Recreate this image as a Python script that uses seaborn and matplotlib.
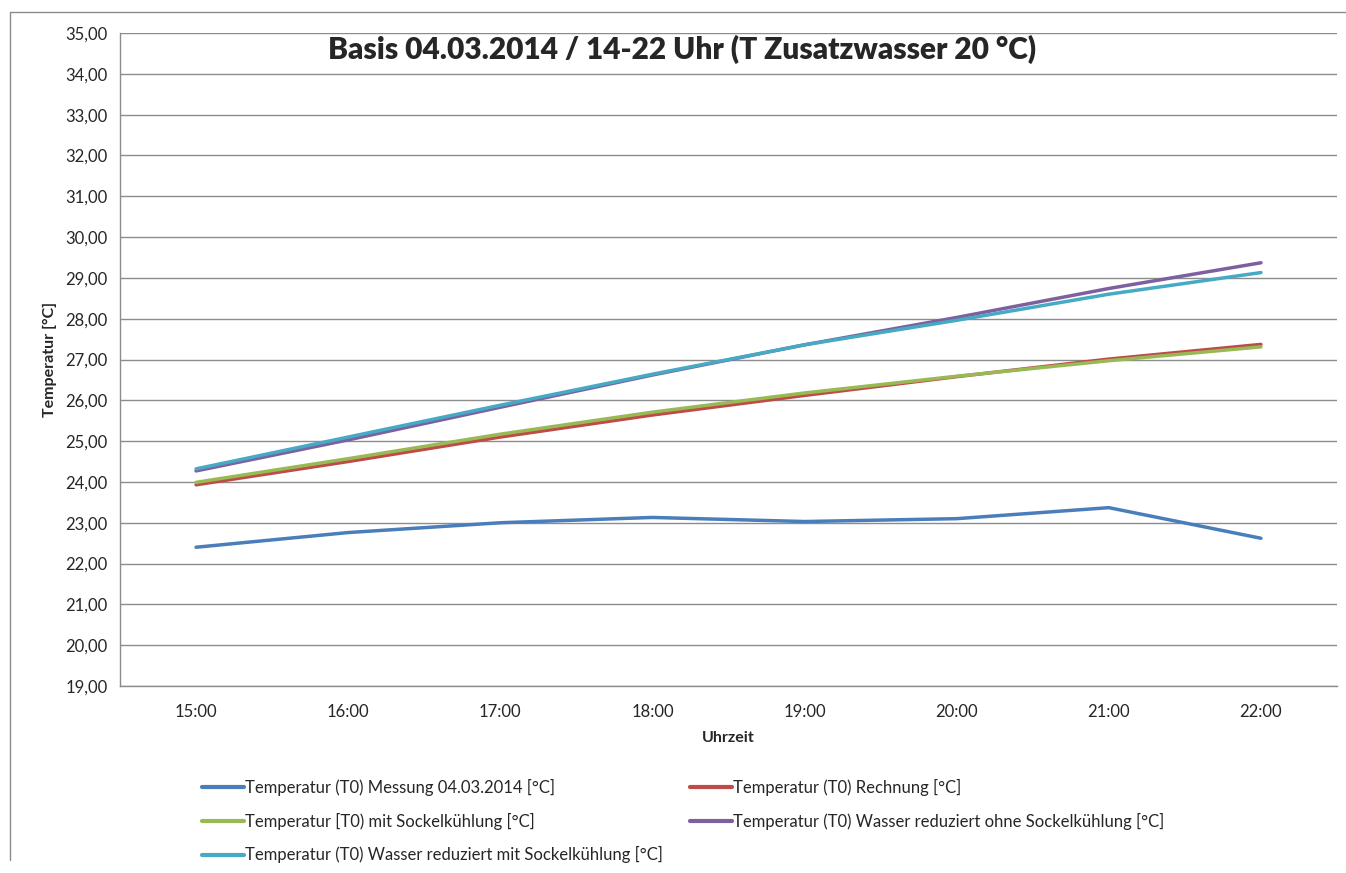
import matplotlib
matplotlib.use("Agg")
import matplotlib.pyplot as plt
import seaborn as sns
import pandas as pd
from matplotlib.lines import Line2D
from matplotlib.ticker import FuncFormatter, MultipleLocator, FixedLocator

hours = ["15:00", "16:00", "17:00", "18:00", "19:00", "20:00", "21:00", "22:00"]

messung = [22.40, 22.76, 23.00, 23.13, 23.03, 23.10, 23.37, 22.62]
rechnung = [23.93, 24.50, 25.10, 25.64, 26.12, 26.58, 27.01, 27.37]
mit_sockel = [23.99, 24.57, 25.17, 25.71, 26.18, 26.59, 26.97, 27.31]
red_ohne = [24.27, 25.03, 25.83, 26.62, 27.36, 28.03, 28.74, 29.37]
red_mit = [24.32, 25.10, 25.88, 26.64, 27.36, 27.96, 28.60, 29.13]

names = [
    "Temperatur (T0) Messung 04.03.2014 [°C]",
    "Temperatur (T0) Rechnung [°C]",
    "Temperatur [T0) mit Sockelkühlung [°C]",
    "Temperatur (T0) Wasser reduziert ohne Sockelkühlung [°C]",
    "Temperatur (T0) Wasser reduziert mit Sockelkühlung [°C]",
]
colors = ["#4A7EBB", "#BE4B48", "#98B954", "#7D60A0", "#46AAC5"]

series = [messung, rechnung, mit_sockel, red_ohne, red_mit]
rows = []
for name, vals in zip(names, series):
    for h, v in zip(hours, vals):
        rows.append({"Uhrzeit": h, "Temp": v, "Reihe": name})
df = pd.DataFrame(rows)

sns.set_style("white")
plt.rcParams["font.family"] = ["Lato", "DejaVu Sans"]

fig = plt.figure(figsize=(13.46, 8.73), dpi=100)
ax = fig.add_axes([120 / 1346, 1 - 686 / 873, (1337 - 120) / 1346, (686 - 33) / 873])

sns.lineplot(data=df, x="Uhrzeit", y="Temp", hue="Reihe", hue_order=names,
             palette=colors, linewidth=2.5, ax=ax, legend=False, sort=False)
for ln in ax.get_lines():
    ln.set_solid_capstyle("round")

ax.set_xlim(-0.5, 7.5)
ax.set_ylim(19, 35)
ax.yaxis.set_major_locator(MultipleLocator(1))
ax.yaxis.set_major_formatter(FuncFormatter(lambda v, p: f"{v:.2f}".replace(".", ",")))
ax.grid(axis="y", color="#8c8c8c", linewidth=1)
ax.set_axisbelow(True)

ax.set_xticks(range(len(hours)))
ax.set_xticklabels(hours)
ax.xaxis.set_minor_locator(FixedLocator([i - 0.5 for i in range(len(hours) + 1)]))
ax.tick_params(axis="x", which="major", length=0, pad=13, labelsize=12)
ax.tick_params(axis="x", which="minor", length=5, color="#8c8c8c", direction="out")
ax.tick_params(axis="y", length=5, color="#8c8c8c", direction="out", labelsize=12, pad=4)

for s in ["top", "right"]:
    ax.spines[s].set_visible(False)
for s in ["left", "bottom"]:
    ax.spines[s].set_color("#8c8c8c")
    ax.spines[s].set_linewidth(1)

ax.set_xlabel("Uhrzeit", fontweight="bold", fontsize=11.5, labelpad=8)
ax.set_ylabel("Temperatur [°C]", fontweight="bold", fontsize=11.5, labelpad=6)

fig.text(682 / 1346, 1 - 49 / 873, "Basis 04.03.2014 / 14-22 Uhr (T Zusatzwasser 20 °C)",
         ha="center", va="center", fontsize=21.5, fontweight="heavy")

handles = [Line2D([], [], color=c, linewidth=3) for c in colors]
order = [0, 2, 4, 1, 3]
fig.legend([handles[i] for i in order], [names[i] for i in order],
           loc="upper left", bbox_to_anchor=(202 / 1346, 1 - 779 / 873),
           ncol=2, frameon=False, fontsize=12, handlelength=2.5,
           handletextpad=0.1, columnspacing=1.6, labelspacing=1.0,
           borderpad=0, borderaxespad=0)

fig.add_artist(Line2D([10 / 1346, 10 / 1346], [1 - 12 / 873, 1 - 860 / 873],
                      transform=fig.transFigure, color="#8c8c8c", linewidth=1))
fig.add_artist(Line2D([10 / 1346, 1], [1 - 12 / 873, 1 - 12 / 873],
                      transform=fig.transFigure, color="#8c8c8c", linewidth=1))

fig.savefig("out.png", dpi=100)
